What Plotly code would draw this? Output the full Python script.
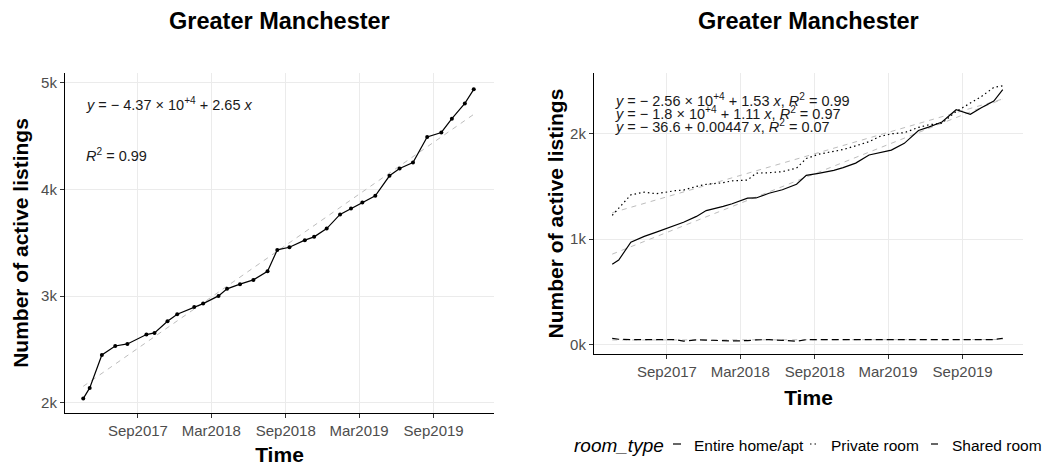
import numpy as np
import pandas as pd
import plotly.graph_objects as go

# Scrape dates of the listings snapshots
dates = ["2017-04-19", "2017-05-05", "2017-06-04", "2017-07-07", "2017-08-06",
         "2017-09-22", "2017-10-12", "2017-11-13", "2017-12-07", "2018-01-18",
         "2018-02-09", "2018-03-19", "2018-04-09", "2018-05-11", "2018-06-13",
         "2018-07-18", "2018-08-11", "2018-09-10", "2018-10-18", "2018-11-10",
         "2018-12-11", "2019-01-13", "2019-02-09", "2019-03-09", "2019-04-10",
         "2019-05-15", "2019-06-09", "2019-07-12", "2019-08-16", "2019-09-20",
         "2019-10-16", "2019-11-17", "2019-12-09"]

# All active listings
total_listings = [2041, 2141, 2450, 2534, 2553, 2641, 2656, 2766, 2831, 2900,
                  2931, 3003, 3069, 3113, 3153, 3234, 3434, 3459, 3525, 3556,
                  3634, 3766, 3822, 3878, 3941, 4128, 4197, 4253, 4491, 4534,
                  4663, 4806, 4938]

# Active listings by room type
entire_home = [760, 800, 970, 1025, 1065, 1133, 1160, 1215, 1270, 1310,
               1335, 1388, 1390, 1435, 1468, 1520, 1605, 1624, 1652, 1678,
               1721, 1798, 1821, 1845, 1909, 2031, 2063, 2112, 2228, 2185,
               2245, 2310, 2418]
private_room = [1225, 1290, 1420, 1445, 1430, 1460, 1465, 1500, 1520, 1535,
                1553, 1560, 1625, 1630, 1640, 1674, 1765, 1805, 1830, 1850,
                1885, 1925, 1975, 2000, 2010, 2060, 2085, 2100, 2212, 2290,
                2350, 2440, 2456]
shared_room = [57, 48, 45, 45, 45, 44, 30, 42, 40, 35,
               32, 35, 42, 45, 40, 30, 44, 45, 45, 45,
               45, 45, 45, 45, 45, 45, 45, 45, 45, 45,
               45, 45, 57]

room_types = ["Entire home/apt", "Private room", "Shared room"]

x_ticks = ["2017-09-01", "2018-03-01", "2018-09-01", "2019-03-01", "2019-09-01"]
left_y_ticks = [2000, 3000, 4000, 5000]
left_y_text = ["2k", "3k", "4k", "5k"]
right_y_ticks = [0, 1000, 2000]
right_y_text = ["0k", "1k", "2k"]

eq_total = ["<i>y</i> = − 4.37 × 10<sup>+4</sup> + 2.65 <i>x</i>",
            "<i>R</i><sup>2</sup> = 0.99"]
eq_rooms = ["<i>y</i> = − 2.56 × 10<sup>+4</sup> + 1.53 <i>x</i>, <i>R</i><sup>2</sup> = 0.99",
            "<i>y</i> = − 1.8 × 10<sup>+4</sup> + 1.11 <i>x</i>, <i>R</i><sup>2</sup> = 0.97",
            "<i>y</i> = − 36.6 + 0.00447 <i>x</i>, <i>R</i><sup>2</sup> = 0.07"]

FONT = "Liberation Sans, Arial, sans-serif"
W, H = 1048, 466

t = pd.to_datetime(dates)
t_num = (t - pd.Timestamp("1970-01-01")).days.values.astype(float)


def linear_fit(values):
    slope, intercept = np.polyfit(t_num, np.asarray(values, float), 1)
    return intercept + slope * t_num


fig = go.Figure()

# Left panel: total listings with linear trend
fig.add_trace(go.Scatter(x=t, y=linear_fit(total_listings), mode="lines",
                         line=dict(color="#bdbdbd", width=1, dash="5px,5px"),
                         showlegend=False, hoverinfo="skip",
                         xaxis="x", yaxis="y"))
fig.add_trace(go.Scatter(x=t, y=total_listings, mode="lines+markers",
                         line=dict(color="black", width=1.2),
                         marker=dict(color="black", size=4),
                         showlegend=False, xaxis="x", yaxis="y"))

# Right panel: listings by room type with linear trends
series = [entire_home, private_room, shared_room]
dashes = ["solid", "1.5px,3px", "7px,4px"]
for vals in series:
    fig.add_trace(go.Scatter(x=t, y=linear_fit(vals), mode="lines",
                             line=dict(color="#bdbdbd", width=1, dash="5px,5px"),
                             showlegend=False, hoverinfo="skip",
                             xaxis="x2", yaxis="y2"))
for name, vals, dash in zip(room_types, series, dashes):
    fig.add_trace(go.Scatter(x=t, y=vals, mode="lines", name=name,
                             line=dict(color="black", width=1.2, dash=dash),
                             showlegend=False, xaxis="x2", yaxis="y2"))

axis_common = dict(showline=True, linecolor="black", linewidth=1.1,
                   ticks="outside", ticklen=4, tickcolor="#333333",
                   tickfont=dict(family=FONT, size=15, color="#4d4d4d"),
                   showgrid=True, gridcolor="#ebebeb", gridwidth=1,
                   zeroline=False, automargin=False)
xrange = ["2017-03-05", "2020-01-28"]
title_font = dict(family=FONT, size=21, color="black")

fig.update_layout(
    width=W, height=H,
    margin=dict(l=0, r=0, t=0, b=0, autoexpand=False),
    paper_bgcolor="white", plot_bgcolor="white",
    font=dict(family=FONT, color="black"),
    showlegend=False,
    xaxis=dict(domain=[65 / W, 494 / W], anchor="y", range=xrange,
               tickvals=x_ticks, tickformat="%b%Y",
               title=dict(text="<b>Time</b>", font=title_font, standoff=11),
               **axis_common),
    yaxis=dict(domain=[(H - 413) / H, (H - 73) / H], anchor="x",
               range=[1906, 5091], tickvals=left_y_ticks, ticktext=left_y_text,
               title=dict(text="<b>Number of active listings</b>", font=title_font,
                          standoff=6),
               **axis_common),
    xaxis2=dict(domain=[594 / W, 1023 / W], anchor="y2", range=xrange,
                tickvals=x_ticks, tickformat="%b%Y",
                title=dict(text="<b>Time</b>", font=title_font, standoff=11),
                **axis_common),
    yaxis2=dict(domain=[(H - 354) / H, (H - 73) / H], anchor="x2",
                range=[-92, 2577], tickvals=right_y_ticks, ticktext=right_y_text,
                title=dict(text="<b>Number of active listings</b>", font=title_font,
                           standoff=0),
                **axis_common),
)

# Panel titles
for cx in [(65 + 494) / 2 / W, (594 + 1023) / 2 / W]:
    fig.add_annotation(text="<b>Greater Manchester</b>", xref="paper", yref="paper",
                       x=cx, y=(H - 21) / H, xanchor="center", yanchor="middle",
                       showarrow=False, font=dict(family=FONT, size=23.5, color="black"))

# Fit equations
eq_font = dict(family=FONT, size=14.5, color="#1a1a1a")
for txt, py in zip(eq_total, [104, 155]):
    fig.add_annotation(text=txt, xref="paper", yref="paper", x=84 / W, y=(H - py) / H,
                       xanchor="left", yanchor="middle", showarrow=False, font=eq_font)
for txt, py in zip(eq_rooms, [100, 113, 126]):
    fig.add_annotation(text=txt, xref="paper", yref="paper", x=613 / W, y=(H - py) / H,
                       xanchor="left", yanchor="middle", showarrow=False, font=eq_font)

# Room-type legend below the right panel: short line keys followed by labels
legend_y = (H - 445) / H
fig.add_annotation(text="<i>room_type</i>", xref="paper", yref="paper",
                   x=572 / W, y=legend_y, xanchor="left", yanchor="middle",
                   showarrow=False, font=dict(family=FONT, size=19, color="black"))
key_left = [673, 810, 931]
for name, dash, kx in zip(room_types, dashes, key_left):
    fig.add_shape(type="line", xref="paper", yref="paper",
                  x0=kx / W, x1=(kx + 8) / W, y0=(H - 444) / H, y1=(H - 444) / H,
                  line=dict(color="black", width=1.2, dash=dash))
    fig.add_annotation(text=name, xref="paper", yref="paper",
                       x=(kx + 19) / W, y=legend_y, xanchor="left", yanchor="middle",
                       showarrow=False, font=dict(family=FONT, size=15.5, color="black"))

fig.write_html("out.html")
